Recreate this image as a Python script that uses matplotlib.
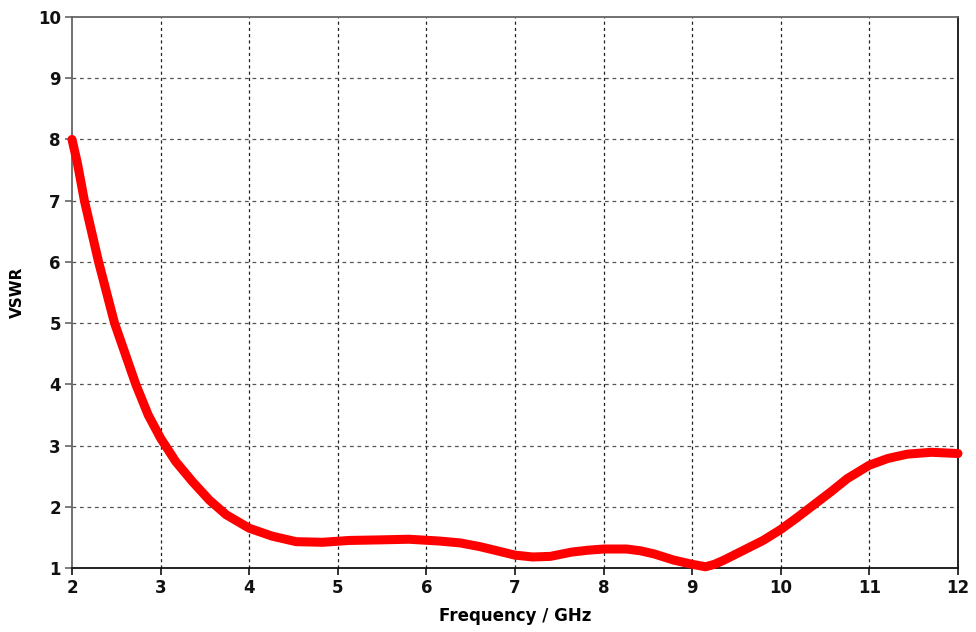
import matplotlib
matplotlib.use("Agg")
import matplotlib.pyplot as plt

# Measured VSWR over frequency
freq_ghz = [2.0, 2.06, 2.14, 2.22, 2.30, 2.39, 2.48, 2.60, 2.72, 2.86, 3.0,
            3.17, 3.36, 3.55, 3.74, 4.0, 4.26, 4.53, 4.83, 5.13, 5.5, 5.8,
            6.15, 6.38, 6.6, 6.83, 7.0, 7.2, 7.4, 7.64, 7.82, 8.0, 8.26,
            8.42, 8.57, 8.79, 9.0, 9.15, 9.25, 9.36, 9.58, 9.8, 10.0, 10.19,
            10.38, 10.57, 10.75, 11.0, 11.21, 11.43, 11.7, 12.0]
vswr = [8.0, 7.62, 7.0, 6.5, 6.0, 5.5, 5.0, 4.5, 4.0, 3.5, 3.12,
        2.74, 2.41, 2.11, 1.87, 1.65, 1.52, 1.43, 1.42, 1.45, 1.46, 1.47,
        1.44, 1.41, 1.35, 1.27, 1.21, 1.18, 1.19, 1.26, 1.29, 1.31, 1.31,
        1.28, 1.23, 1.13, 1.06, 1.02, 1.06, 1.13, 1.29, 1.45, 1.63, 1.83,
        2.04, 2.25, 2.46, 2.68, 2.79, 2.86, 2.89, 2.87]

x_ticks = [2, 3, 4, 5, 6, 7, 8, 9, 10, 11, 12]
y_ticks = [1, 2, 3, 4, 5, 6, 7, 8, 9, 10]

fig = plt.figure(figsize=(9.76, 6.32), dpi=100)
ax = fig.add_axes([72 / 976, 1 - 568 / 632, (958 - 72) / 976, (568 - 17) / 632])

ax.set_xlim(2, 12)
ax.set_ylim(1, 10)
ax.set_xticks(x_ticks)
ax.set_yticks(y_ticks)

# grid: vertical lines dark, horizontal lines grey
for xv in x_ticks[1:-1]:
    ax.axvline(xv, color="#222222", lw=0.9, ls=(0, (2.5, 2.5)), zorder=1)
for yv in y_ticks[1:-1]:
    ax.axhline(yv, color="#555555", lw=0.9, ls=(0, (3, 3)), zorder=1)

ax.plot(freq_ghz, vswr, color="#ff0000", lw=6.5, solid_capstyle="round",
        solid_joinstyle="round", zorder=3, clip_on=False)

for side, col in (("left", "#666666"), ("top", "#666666"),
                  ("bottom", "#111111"), ("right", "#111111")):
    ax.spines[side].set_color(col)
    ax.spines[side].set_linewidth(1.3)

ax.tick_params(axis="both", direction="out", length=5, width=1.2,
               labelsize=12, pad=3)
ax.tick_params(axis="x", colors="#111111")
ax.tick_params(axis="y", colors="#666666")
for lab in ax.get_xticklabels() + ax.get_yticklabels():
    lab.set_fontweight("bold")
    lab.set_color("#111111")

ax.set_xlabel("Frequency / GHz", fontsize=12, fontweight="bold", labelpad=7)
ax.set_ylabel("VSWR", fontsize=11, fontweight="bold", labelpad=9)

fig.savefig("out.png", dpi=100)
